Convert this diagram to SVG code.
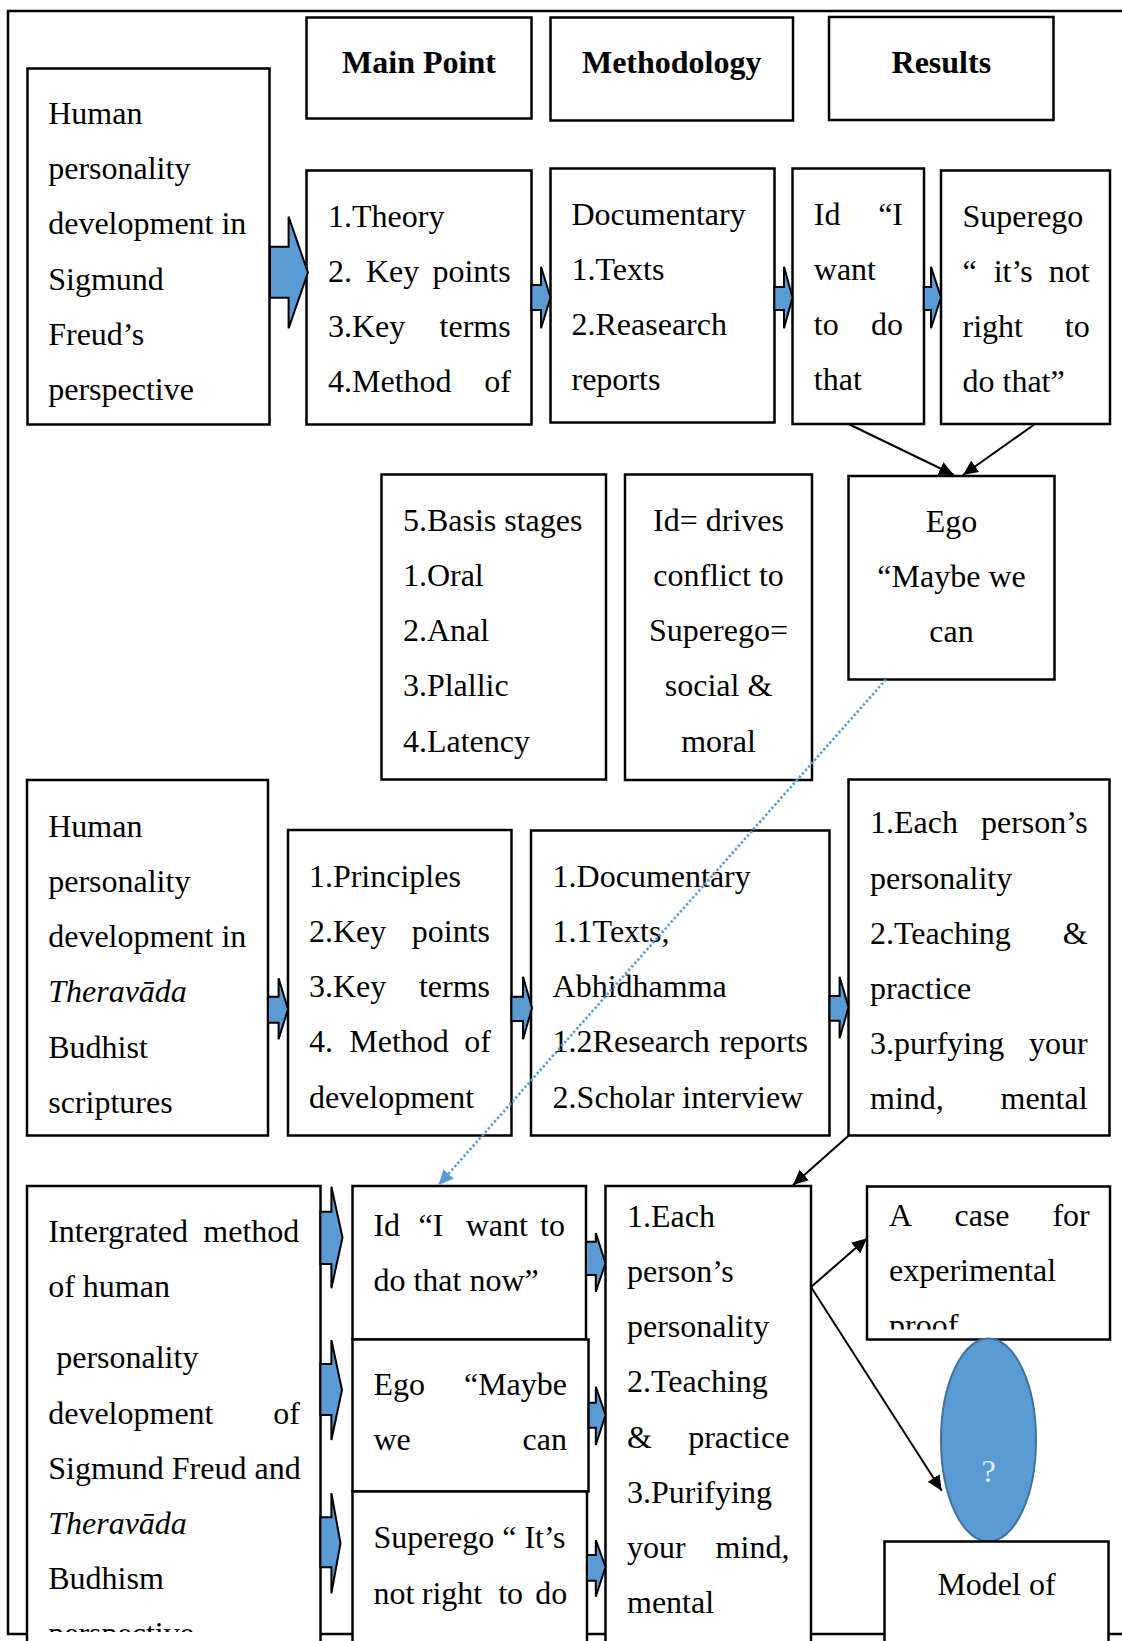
<svg xmlns="http://www.w3.org/2000/svg" width="1122" height="1641" viewBox="0 0 1122 1641">
  <style>
    .b{fill:#fff;stroke:#000;stroke-width:2.5}
    .t{font-family:"Liberation Serif","Times New Roman",serif;font-size:32px;fill:#000}
    .h{font-weight:bold}
    .c{text-anchor:middle}
    .e{text-anchor:end}
    .i{font-style:italic}
    .ba{fill:#5B9BD5;stroke:#000;stroke-width:2;stroke-linejoin:miter}
    .ln{stroke:#000;stroke-width:2;fill:none}
    .dot{stroke:#5B9BD5;stroke-width:2.6;stroke-dasharray:2.4 2.2;fill:none}
  </style>
  <defs>
    <marker id="ah" markerUnits="userSpaceOnUse" markerWidth="16" markerHeight="14" refX="15" refY="7" orient="auto">
      <path d="M0,0 L15,7 L0,14 z" fill="#000"/>
    </marker>
    <marker id="ahb" markerUnits="userSpaceOnUse" markerWidth="16" markerHeight="14" refX="15" refY="7" orient="auto">
      <path d="M0,0 L15,7 L0,14 z" fill="#5B9BD5"/>
    </marker>
    <clipPath id="clipPage"><rect x="0" y="0" width="1122" height="1632"/></clipPath>
    <clipPath id="clipCase"><rect x="867" y="1186" width="243" height="143.5"/></clipPath>
  </defs>
  <rect width="1122" height="1641" fill="#fff"/>

  <!-- page frame -->
  <path d="M1125,11 H8 V1634 H1125" fill="none" stroke="#000" stroke-width="2.5"/>

  <!-- column headers -->
  <g id="hdr-main"><rect class="b" x="306.5" y="17.5" width="225" height="101"/>
    <text class="t h c" x="419" y="73.3">Main Point</text></g>
  <g id="hdr-method"><rect class="b" x="550.5" y="17.5" width="242.5" height="103"/>
    <text class="t h c" x="671.7" y="73.3">Methodology</text></g>
  <g id="hdr-results"><rect class="b" x="829" y="17" width="224.5" height="103"/>
    <text class="t h c" x="941.3" y="73.3">Results</text></g>

  <!-- row 1: Freud -->
  <g id="freud-topic"><rect class="b" x="27.5" y="68.5" width="242" height="356"/>
    <text class="t" x="48.2" y="124">Human</text>
    <text class="t" x="48.2" y="179.2">personality</text>
    <text class="t" x="48.2" y="234.4">development in</text>
    <text class="t" x="48.2" y="289.6">Sigmund</text>
    <text class="t" x="48.2" y="344.8">Freud’s</text>
    <text class="t" x="48.2" y="400">perspective</text></g>
  <g id="freud-points"><rect class="b" x="306.5" y="170.5" width="225" height="254"/>
    <text class="t" x="328" y="226.7">1.Theory</text>
    <text class="t" x="328" y="281.9">2.</text><text class="t" x="366" y="281.9">Key</text><text class="t e" x="510.7" y="281.9">points</text>
    <text class="t" x="328" y="337.1">3.Key</text><text class="t e" x="510.7" y="337.1">terms</text>
    <text class="t" x="328" y="392.3">4.Method</text><text class="t e" x="511" y="392.3">of</text></g>
  <g id="freud-method"><rect class="b" x="550.5" y="168.5" width="224" height="254"/>
    <text class="t" x="571.5" y="224.7">Documentary</text>
    <text class="t" x="571.5" y="279.9">1.Texts</text>
    <text class="t" x="571.5" y="335.1">2.Reasearch</text>
    <text class="t" x="571.5" y="390.3">reports</text></g>
  <g id="freud-id"><rect class="b" x="792.5" y="168.5" width="131.5" height="255.5"/>
    <text class="t" x="813.8" y="224.7">Id</text><text class="t e" x="903" y="224.7">“I</text>
    <text class="t" x="813.8" y="279.9">want</text>
    <text class="t" x="813.8" y="335.1">to</text><text class="t e" x="903" y="335.1">do</text>
    <text class="t" x="813.8" y="390.3">that</text></g>
  <g id="freud-superego"><rect class="b" x="941" y="170.5" width="169" height="253.5"/>
    <text class="t" x="962.5" y="226.7">Superego</text>
    <text class="t" x="962.5" y="281.9">“</text><text class="t" x="993.7" y="281.9">it’s</text><text class="t e" x="1089.7" y="281.9">not</text>
    <text class="t" x="962.5" y="337.1">right</text><text class="t e" x="1089.7" y="337.1">to</text>
    <text class="t" x="962.5" y="392.3">do that”</text></g>

  <!-- row 2: Freud details -->
  <g id="freud-stages"><rect class="b" x="381.5" y="474.5" width="224.5" height="305"/>
    <text class="t" x="402.9" y="530.7">5.Basis stages</text>
    <text class="t" x="402.9" y="585.9">1.Oral</text>
    <text class="t" x="402.9" y="641.1">2.Anal</text>
    <text class="t" x="402.9" y="696.3">3.Plallic</text>
    <text class="t" x="402.9" y="751.5">4.Latency</text></g>
  <g id="freud-drives"><rect class="b" x="625" y="474.5" width="187" height="305.5"/>
    <text class="t c" x="718.5" y="530.7">Id= drives</text>
    <text class="t c" x="718.5" y="585.9">conflict to</text>
    <text class="t c" x="718.5" y="641.1">Superego=</text>
    <text class="t c" x="718.5" y="696.3">social &amp;</text>
    <text class="t c" x="718.5" y="751.5">moral</text></g>
  <g id="freud-ego"><rect class="b" x="848.5" y="476" width="206" height="203.5"/>
    <text class="t c" x="951.5" y="531.7">Ego</text>
    <text class="t c" x="951.5" y="586.9">“Maybe we</text>
    <text class="t c" x="951.5" y="642.1">can</text></g>

  <!-- row 3: Theravada -->
  <g id="thera-topic"><rect class="b" x="27" y="780" width="241" height="355.5"/>
    <text class="t" x="48.2" y="836.7">Human</text>
    <text class="t" x="48.2" y="891.9">personality</text>
    <text class="t" x="48.2" y="947.1">development in</text>
    <text class="t i" x="48.2" y="1002.3">Theravāda</text>
    <text class="t" x="48.2" y="1057.5">Budhist</text>
    <text class="t" x="48.2" y="1112.7">scriptures</text></g>
  <g id="thera-points"><rect class="b" x="288" y="830" width="223.5" height="305.5"/>
    <text class="t" x="308.9" y="886.7">1.Principles</text>
    <text class="t" x="308.9" y="941.9">2.Key</text><text class="t e" x="490" y="941.9">points</text>
    <text class="t" x="308.9" y="997.1">3.Key</text><text class="t e" x="490" y="997.1">terms</text>
    <text class="t" x="308.9" y="1052.3">4.</text><text class="t" x="349.3" y="1052.3">Method</text><text class="t e" x="491" y="1052.3">of</text>
    <text class="t" x="308.9" y="1107.5">development</text></g>
  <g id="thera-method"><rect class="b" x="531" y="830.5" width="298.5" height="305"/>
    <text class="t" x="552.6" y="886.7">1.Documentary</text>
    <text class="t" x="552.6" y="941.9">1.1Texts,</text>
    <text class="t" x="552.6" y="997.1">Abhidhamma</text>
    <text class="t" x="552.6" y="1052.3">1.2Research</text><text class="t e" x="808" y="1052.3">reports</text>
    <text class="t" x="552.6" y="1107.5">2.Scholar interview</text></g>
  <g id="thera-results"><rect class="b" x="848.5" y="779.5" width="261" height="356"/>
    <text class="t" x="870" y="833.3">1.Each</text><text class="t e" x="1087.6" y="833.3">person’s</text>
    <text class="t" x="870" y="888.5">personality</text>
    <text class="t" x="870" y="943.7">2.Teaching</text><text class="t e" x="1087.6" y="943.7">&amp;</text>
    <text class="t" x="870" y="998.9">practice</text>
    <text class="t" x="870" y="1054.1">3.purfying</text><text class="t e" x="1087.6" y="1054.1">your</text>
    <text class="t" x="870" y="1109.3">mind,</text><text class="t e" x="1087.6" y="1109.3">mental</text></g>

  <!-- row 4: integrated method -->
  <g id="integrated"><rect class="b" x="27" y="1186" width="293.5" height="470"/>
    <g clip-path="url(#clipPage)">
      <text class="t" x="48.2" y="1241.7">Intergrated</text><text class="t e" x="299.3" y="1241.7">method</text>
      <text class="t" x="48.2" y="1296.9">of human</text>
      <text class="t" x="56.2" y="1368.3">personality</text>
      <text class="t" x="48.2" y="1423.5">development</text><text class="t e" x="300" y="1423.5">of</text>
      <text class="t" x="48.2" y="1478.7">Sigmund Freud and</text>
      <text class="t i" x="48.2" y="1533.9">Theravāda</text>
      <text class="t" x="48.2" y="1589.1">Budhism</text>
      <text class="t" x="48.2" y="1644.3">perspective</text>
    </g></g>
  <g id="int-id"><rect class="b" x="352.5" y="1186" width="233.5" height="153.5"/>
    <text class="t" x="373.4" y="1236">Id</text><text class="t" x="418.6" y="1236">“I</text><text class="t" x="465.7" y="1236">want</text><text class="t e" x="565" y="1236">to</text>
    <text class="t" x="373.4" y="1291.2">do that now”</text></g>
  <g id="int-ego"><rect class="b" x="352.5" y="1339.5" width="236" height="152"/>
    <text class="t" x="373.4" y="1395">Ego</text><text class="t e" x="567" y="1395">“Maybe</text>
    <text class="t" x="373.4" y="1450.2">we</text><text class="t e" x="567" y="1450.2">can</text></g>
  <g id="int-superego"><rect class="b" x="352.5" y="1491.5" width="234.5" height="160"/>
    <text class="t" x="373.4" y="1548.3">Superego “ It’s</text>
    <text class="t" x="373.4" y="1603.5">not</text><text class="t" x="421.8" y="1603.5">right</text><text class="t" x="498.2" y="1603.5">to</text><text class="t e" x="567.3" y="1603.5">do</text></g>
  <g id="int-results"><rect class="b" x="605.5" y="1186" width="205.5" height="470"/>
    <text class="t" x="627" y="1226.7">1.Each</text>
    <text class="t" x="627" y="1281.9">person’s</text>
    <text class="t" x="627" y="1337.1">personality</text>
    <text class="t" x="627" y="1392.3">2.Teaching</text>
    <text class="t" x="627" y="1447.5">&amp;</text><text class="t e" x="789.4" y="1447.5">practice</text>
    <text class="t" x="627" y="1502.7">3.Purifying</text>
    <text class="t" x="627" y="1557.9">your</text><text class="t e" x="789.4" y="1557.9">mind,</text>
    <text class="t" x="627" y="1613.1">mental</text></g>
  <g id="case"><rect class="b" x="867" y="1186.5" width="243" height="153"/>
    <g clip-path="url(#clipCase)">
      <text class="t" x="889" y="1226">A</text><text class="t" x="954.5" y="1226">case</text><text class="t e" x="1089.7" y="1226">for</text>
      <text class="t" x="889" y="1281.2">experimental</text>
      <text class="t" x="889" y="1336.4">proof</text>
    </g></g>
  <g id="unknown"><ellipse cx="988.5" cy="1440" rx="47.5" ry="101.5" fill="#5B9BD5" stroke="#41719C" stroke-width="2"/>
    <text class="t c" x="988.5" y="1482" style="fill:#e6eef8">?</text></g>
  <g id="model"><rect class="b" x="884.5" y="1541.5" width="224" height="110"/>
    <text class="t c" x="996.5" y="1595">Model of</text></g>

  <!-- connectors -->
  <g id="connectors">
    <!-- block arrows -->
    <polygon class="ba" points="270,246.7 288.6,246.7 288.6,216.7 307.9,272.5 288.6,328.3 288.6,297.7 270,297.7"/>
    <polygon class="ba" points="531.4,285 541,285 541,266.7 550.5,297.5 541,328.3 541,310 531.4,310"/>
    <polygon class="ba" points="774.3,287 784,287 784,266.7 792.5,297.5 784,328.3 784,310 774.3,310"/>
    <polygon class="ba" points="923.8,287 931,287 931,266.7 941,297.5 931,328.3 931,310 923.8,310"/>
    <polygon class="ba" points="268,996.7 278.6,996.7 278.6,978.3 288,1009.3 278.6,1039.3 278.6,1022.7 268,1022.7"/>
    <polygon class="ba" points="511.4,996.7 523,996.7 523,976.7 532,1008 523,1039.3 523,1021 511.4,1021"/>
    <polygon class="ba" points="829.5,996 839.6,996 839.6,976.7 848.5,1007.3 839.6,1038.3 839.6,1020.7 829.5,1020.7"/>
    <polygon class="ba" points="320.4,1211.7 331.4,1211.7 331.4,1186.7 342.5,1237.5 331.4,1288.3 331.4,1264 320.4,1264"/>
    <polygon class="ba" points="320.4,1364 331.4,1364 331.4,1340 342,1390 331.4,1440 331.4,1415 320.4,1415"/>
    <polygon class="ba" points="320.4,1517.3 331.4,1517.3 331.4,1493.3 340.5,1543.3 331.4,1593.3 331.4,1567.3 320.4,1567.3"/>
    <polygon class="ba" points="586,1241.7 595.8,1241.7 595.8,1233 605.5,1263.3 595.8,1291.7 595.8,1275 586,1275"/>
    <polygon class="ba" points="588.7,1402.7 595.8,1402.7 595.8,1386.7 605.5,1415 595.8,1445 595.8,1427.7 588.7,1427.7"/>
    <polygon class="ba" points="587,1555 595.8,1555 595.8,1540 605.5,1567 595.8,1596.7 595.8,1580.7 587,1580.7"/>
    <!-- line arrows -->
    <line class="ln" x1="848.5" y1="424" x2="954" y2="475" marker-end="url(#ah)"/>
    <line class="ln" x1="1035" y1="424" x2="963" y2="475" marker-end="url(#ah)"/>
    <line class="ln" x1="848.5" y1="1135.7" x2="793" y2="1185" marker-end="url(#ah)"/>
    <line class="ln" x1="811" y1="1287" x2="867" y2="1238.3" marker-end="url(#ah)"/>
    <line class="ln" x1="811" y1="1287" x2="941.7" y2="1490.7" marker-end="url(#ah)"/>
    <line class="dot" x1="886" y1="679.5" x2="438.6" y2="1185" marker-end="url(#ahb)"/>
  </g>
</svg>
